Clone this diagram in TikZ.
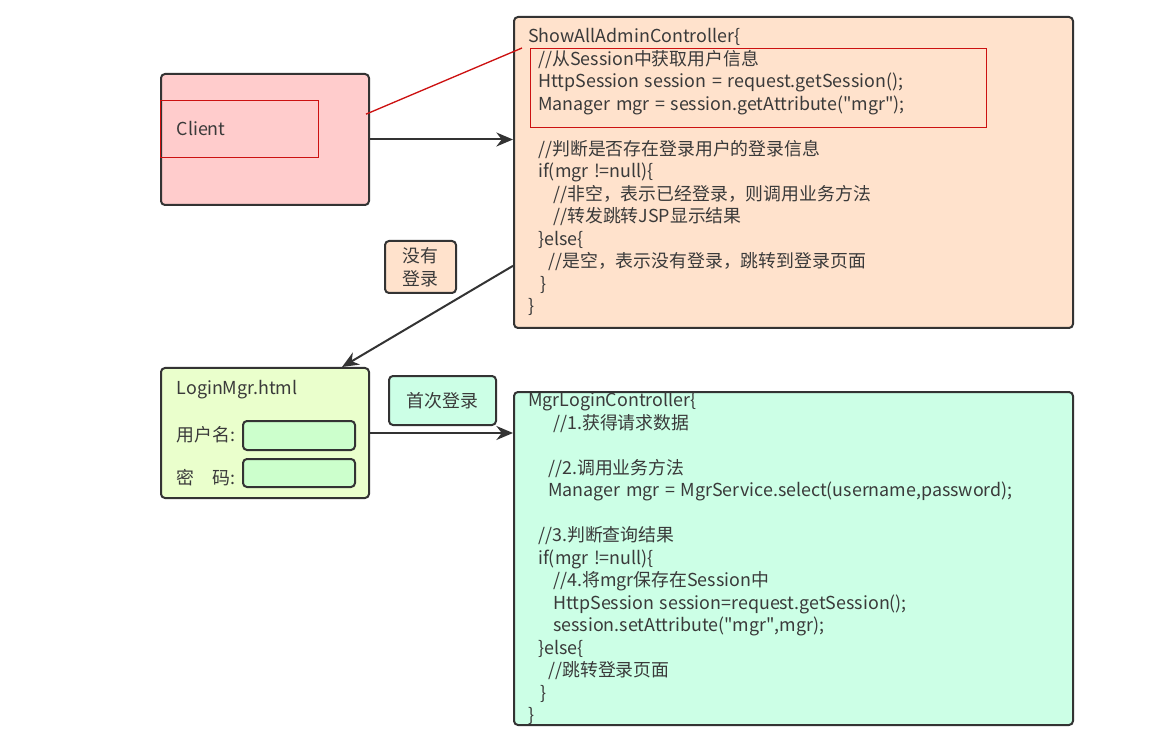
\documentclass[tikz,border=0pt]{standalone}
\usepackage{fontspec}
\setmainfont{Noto Sans CJK SC}[WordSpace=1.4]
\usepackage{xcolor}
\usetikzlibrary{positioning, arrows.meta, calc}

\definecolor{boxline}{HTML}{333333}
\definecolor{txtgray}{HTML}{3A3A3A}
\definecolor{hlred}{HTML}{CC1111}
\definecolor{clientfill}{HTML}{FFCCCC}
\definecolor{peachfill}{HTML}{FFE2CC}
\definecolor{loginfill}{HTML}{EAFFCC}
\definecolor{mintfill}{HTML}{CCFFE6}
\definecolor{inputfill}{HTML}{CCFFCC}

\begin{document}
\begin{tikzpicture}[
    x=0.75pt, y=-0.75pt,
    >=Stealth,
    every node/.style={font=\fontsize{13.4pt}{16.9pt}\selectfont, text=txtgray},
    box/.style={draw=boxline, line width=1.5pt, rounded corners=3pt, anchor=north west, inner sep=0pt},
    hlbox/.style={draw=hlred, line width=1pt, anchor=north west, inner sep=0pt},
    tag/.style={draw=boxline, line width=1.5pt, rounded corners=3pt, align=center, inner sep=0pt},
    field/.style={draw=boxline, line width=1.5pt, rounded corners=3pt, fill=inputfill, anchor=north west,
        minimum width=84pt, inner sep=0pt},
    code/.style={anchor=north west, align=left, inner sep=0pt},
    arr/.style={line width=1.5pt, boxline, arrows={-Stealth[length=12.5pt, width=10.5pt]}},
    hlline/.style={draw=hlred, line width=1pt},
]
\useasboundingbox (0,0) rectangle (1163,741);

% === Client ===
\node[box, fill=clientfill, minimum width=156pt, minimum height=98.25pt] at (160,73) (client) {};
\node[hlbox, minimum width=118.5pt, minimum height=42.75pt] at (160,100) (clienthl) {};
\node[anchor=west] at (172,129) (clientlbl) {Client};

% === ShowAllAdminController ===
\node[box, fill=peachfill, minimum width=419.25pt, minimum height=233.25pt] at (513,16) (show) {};
\node[hlbox, minimum width=342pt, minimum height=59.25pt] at (530,48) (showhl) {};
\node[code] at (528,28) (showcode) {%
ShowAllAdminController\{\\
\hspace*{7.5pt}//从Session中获取用户信息\\
\hspace*{7.5pt}HttpSession session = request.getSession();\\
\hspace*{7.5pt}Manager mgr = session.getAttribute(\textquotedbl mgr\textquotedbl);\\[16.9pt]
\hspace*{7.5pt}//判断是否存在登录用户的登录信息\\
\hspace*{7.5pt}if(mgr !=null)\{\\
\hspace*{18.75pt}//非空，表示已经登录，则调用业务方法\\
\hspace*{18.75pt}//转发跳转JSP显示结果\\
\hspace*{7.5pt}\}else\{\\
\hspace*{15pt}//是空，表示没有登录，跳转到登录页面\\
\hspace*{9pt}\}\\
\}};

% === LoginMgr.html ===
\node[box, fill=loginfill, minimum width=156pt, minimum height=97.5pt] at (160,367) (login) {};
\node[anchor=west] at (172,390) (loginlbl) {LoginMgr.html};
\node[anchor=west] at (172,435) (userlbl) {用户名:};
\node[field, minimum height=21.75pt] at (242,420) (userfield) {};
\node[anchor=west] at (172,478) (pwdlbl) {密\hspace{1em}码:};
\node[field, minimum height=21pt] at (242,458) (pwdfield) {};

% === MgrLoginController ===
\node[box, fill=mintfill, minimum width=419.25pt, minimum height=249.75pt] at (513,391) (mgrctl) {};
\node[code] at (528,392) (mgrcode) {%
MgrLoginController\{\\
\hspace*{18.75pt}//1.获得请求数据\\[16.9pt]
\hspace*{15pt}//2.调用业务方法\\
\hspace*{15pt}Manager mgr = MgrService.select(username,password);\\[16.9pt]
\hspace*{7.5pt}//3.判断查询结果\\
\hspace*{7.5pt}if(mgr !=null)\{\\
\hspace*{18.75pt}//4.将mgr保存在Session中\\
\hspace*{18.75pt}HttpSession session=request.getSession();\\
\hspace*{18.75pt}session.setAttribute(\textquotedbl mgr\textquotedbl,mgr);\\
\hspace*{7.5pt}\}else\{\\
\hspace*{15pt}//跳转登录页面\\
\hspace*{9pt}\}\\
\}};

% === Labels on arrows ===
\node[tag, fill=peachfill, minimum width=53.25pt, minimum height=39pt] at (420.5,267) (nologin) {没有\\登录};
\node[tag, fill=mintfill, minimum width=80.25pt, minimum height=36.75pt] at (442.5,400.5) (firstlogin) {首次登录};

% === Connectors ===
\draw[hlline] ([xshift=-3pt, yshift=19pt]client.east) -- ([xshift=-6pt]showhl.north west);
\draw[arr] (client.east) -- (client.east -| show.west);
\draw[arr] ([yshift=-70pt]show.west) -- ([xshift=-21pt]login.north east);
\draw[arr] (login.east) -- (login.east -| mgrctl.west);

\end{tikzpicture}
\end{document}
